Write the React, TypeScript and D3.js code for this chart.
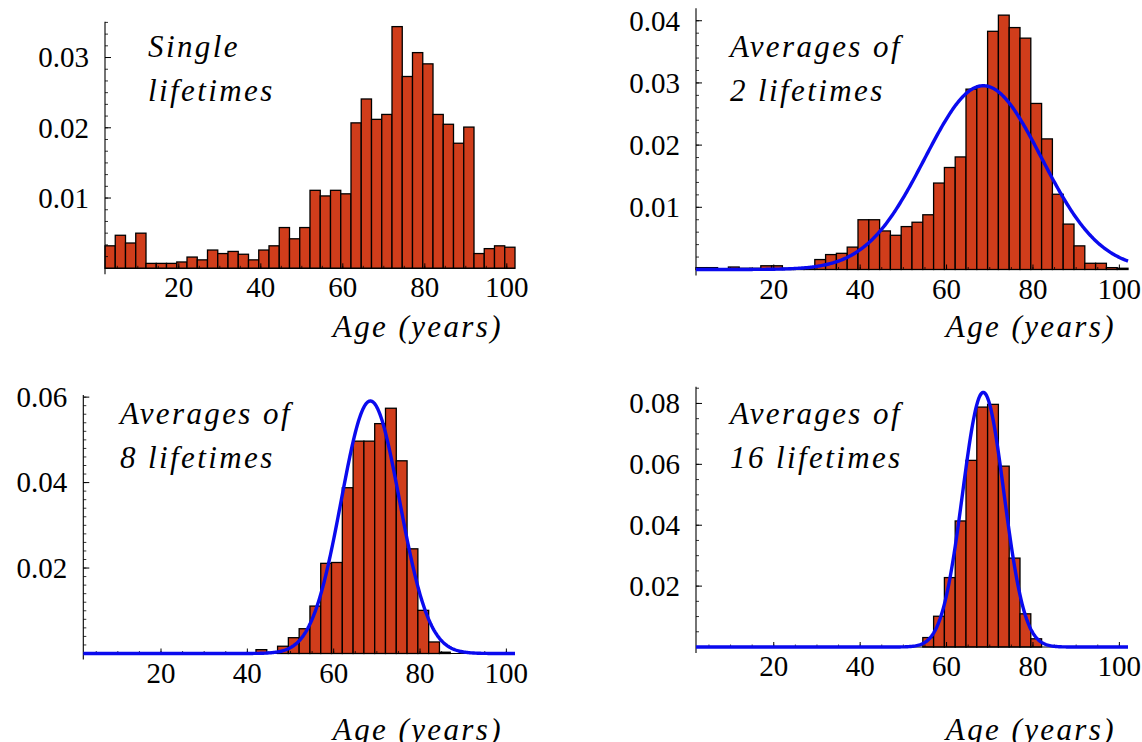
import React from "react";
import * as d3 from "d3";

// histogram bins: 40 bins of 2.5 years starting at age 2
const binStart = 2;
const binWidth = 2.5;

// density per bin
const singleLifetimes = [
  0.0032, 0.0047, 0.0036, 0.005, 0.0007, 0.0007, 0.0007, 0.0009, 0.0016, 0.0012,
  0.0026, 0.0021, 0.0024, 0.002, 0.0012, 0.0026, 0.0032, 0.0058, 0.0042, 0.0058,
  0.0111, 0.0103, 0.0111, 0.0106, 0.0207, 0.0241, 0.0212, 0.0219, 0.0344, 0.0273,
  0.0307, 0.0291, 0.0219, 0.0205, 0.0178, 0.0201, 0.0021, 0.0028, 0.0032, 0.003,
];
const averages2 = [
  0.0003, 0.0003, 0.0001, 0.0004, 0.0002, 0.0002, 0.0006, 0.0006, 0.0002, 0.0002,
  0.0003, 0.0016, 0.0024, 0.0026, 0.0036, 0.008, 0.008, 0.0062, 0.0055, 0.0069,
  0.0076, 0.0088, 0.0139, 0.0164, 0.0181, 0.029, 0.0295, 0.0383, 0.0409, 0.0389,
  0.0372, 0.0267, 0.021, 0.0121, 0.0073, 0.0038, 0.001, 0.001, 0.0003, 0.0002,
];
const averages8 = [
  0, 0, 0, 0, 0, 0, 0, 0, 0, 0,
  0, 0, 0, 0, 0, 0, 0.0009, 0, 0.0017, 0.0037,
  0.0058, 0.0111, 0.0211, 0.0213, 0.0388, 0.0497, 0.0497, 0.0538, 0.0574, 0.0451,
  0.0245, 0.0101, 0.0027, 0.0003, 0, 0, 0, 0, 0, 0,
];
const averages16 = [
  0, 0, 0, 0, 0, 0, 0, 0, 0, 0,
  0, 0, 0, 0, 0, 0, 0, 0, 0, 0,
  0, 0.0031, 0.0101, 0.0228, 0.0414, 0.0613, 0.0788, 0.0797, 0.0594, 0.0292,
  0.0109, 0.0027, 0, 0, 0, 0, 0, 0, 0, 0,
];

// fitted normal curves (mean, sd)
const fitMean = 68.5;
const fitSd2 = 13.5;
const fitSd8 = 6.75;
const fitSd16 = 4.77;

const xTicks = [20, 40, 60, 80, 100];
const yTicks1 = [0.01, 0.02, 0.03];
const yTicks2 = [0.01, 0.02, 0.03, 0.04];
const yTicks3 = [0.02, 0.04, 0.06];
const yTicks4 = [0.02, 0.04, 0.06, 0.08];

const FONT = "Liberation Serif";
const BAR_FILL = "#d03d1b";
const CURVE = "#0a0aee";

const normal = (x, mu, sd) =>
  Math.exp(-0.5 * ((x - mu) / sd) ** 2) / (sd * Math.sqrt(2 * Math.PI));

const Panel = ({ values, sd, yTicks, yMax, minorStep, title, box }) => {
  const x = d3.scaleLinear().domain([2, 102]).range([box.left, box.right]);
  const y = d3.scaleLinear().domain([0, yMax]).range([box.zero, box.top]);

  const minor = d3.range(minorStep, yMax, minorStep);
  const xMinor = d3.range(5, 102, 5);

  let curvePath = null;
  if (sd) {
    const xs = d3.range(2, 102.01, 0.25);
    const line = d3
      .line()
      .x((d) => x(d))
      .y((d) => y(normal(d, fitMean, sd)));
    curvePath = line(xs);
  }

  return (
    <g>
      {/* bars */}
      {values.map((v, i) =>
        v > 0 ? (
          <rect
            key={i}
            x={x(binStart + i * binWidth)}
            y={y(v)}
            width={x(binStart + (i + 1) * binWidth) - x(binStart + i * binWidth)}
            height={y(0) - y(v)}
            fill={BAR_FILL}
            stroke="#000"
            strokeWidth={1.3}
          />
        ) : null
      )}

      {/* axes */}
      <line x1={box.left} x2={box.left} y1={box.zero + 6} y2={box.top} stroke="#000" strokeWidth={1.1} />
      <line x1={box.left} x2={box.right} y1={box.zero} y2={box.zero} stroke="#000" strokeWidth={1.1} />
      {minor.map((t) => (
        <line key={"m" + t} x1={box.left} x2={box.left + 3} y1={y(t)} y2={y(t)} stroke="#000" strokeWidth={0.8} />
      ))}
      {yTicks.map((t) => (
        <g key={"y" + t}>
          <line x1={box.left} x2={box.left + 6} y1={y(t)} y2={y(t)} stroke="#000" strokeWidth={1} />
          <text
            x={box.left - 16}
            y={y(t)}
            dy="0.34em"
            textAnchor="end"
            style={{ fontFamily: FONT, fontSize: 29 }}
          >
            {t.toFixed(2)}
          </text>
        </g>
      ))}
      {xMinor.map((t) => (
        <line key={"xm" + t} x1={x(t)} x2={x(t)} y1={box.zero} y2={box.zero - 2.5} stroke="#000" strokeWidth={0.8} />
      ))}
      {xTicks.map((t) => (
        <g key={"x" + t}>
          <line x1={x(t)} x2={x(t)} y1={box.zero} y2={box.zero - 5} stroke="#000" strokeWidth={1} />
          <text
            x={x(t)}
            y={box.zero + 29}
            textAnchor="middle"
            style={{ fontFamily: FONT, fontSize: 29 }}
          >
            {t}
          </text>
        </g>
      ))}

      {curvePath && (
        <path d={curvePath} fill="none" stroke={CURVE} strokeWidth={3.4} strokeLinejoin="round" />
      )}

      {/* panel title */}
      {title.map((line, i) => (
        <text
          key={"t" + i}
          x={box.titleX}
          y={box.titleY + i * 44}
          style={{ fontFamily: FONT, fontStyle: "italic", fontSize: 31, letterSpacing: 2.4 }}
        >
          {line}
        </text>
      ))}
      <text
        x={box.right - 12}
        y={box.labelY}
        textAnchor="end"
        style={{ fontFamily: FONT, fontStyle: "italic", fontSize: 31, letterSpacing: 2.4 }}
      >
        Age (years)
      </text>
    </g>
  );
};

export default function App() {
  return (
    <svg
      width={1142}
      height={742}
      style={{ position: "absolute", left: 0, top: 0, background: "#fff" }}
    >
      <Panel
        values={singleLifetimes}
        sd={null}
        yTicks={yTicks1}
        yMax={0.0351}
        minorStep={0.01 / 6}
        title={["Single", "lifetimes"]}
        box={{ left: 105, right: 515, zero: 268.3, top: 21.7, titleX: 148, titleY: 57, labelY: 337 }}
      />
      <Panel
        values={averages2}
        sd={fitSd2}
        yTicks={yTicks2}
        yMax={0.042}
        minorStep={0.002}
        title={["Averages of", "2 lifetimes"]}
        box={{ left: 696, right: 1128, zero: 269.5, top: 8.3, titleX: 730, titleY: 57, labelY: 337 }}
      />
      <Panel
        values={averages8}
        sd={fitSd8}
        yTicks={yTicks3}
        yMax={0.0605}
        minorStep={0.002}
        title={["Averages of", "8 lifetimes"]}
        box={{ left: 83.3, right: 515, zero: 653.5, top: 395, titleX: 120, titleY: 424, labelY: 740 }}
      />
      <Panel
        values={averages16}
        sd={fitSd16}
        yTicks={yTicks4}
        yMax={0.0855}
        minorStep={0.005}
        title={["Averages of", "16 lifetimes"]}
        box={{ left: 696, right: 1128, zero: 647, top: 386.7, titleX: 730, titleY: 424, labelY: 740 }}
      />
    </svg>
  );
}
